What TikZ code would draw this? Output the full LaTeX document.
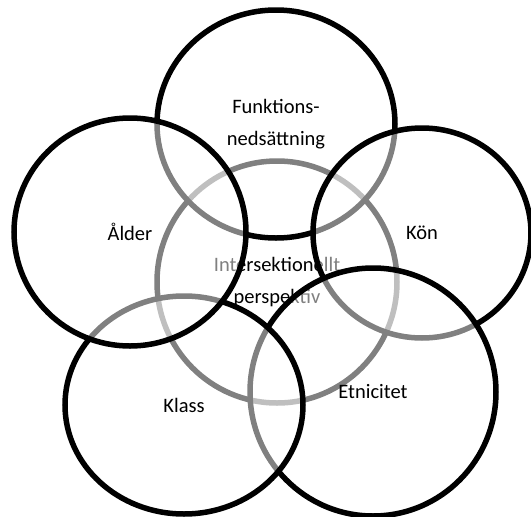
\documentclass[tikz,border=0pt]{standalone}
\usepackage{fontspec}
\setmainfont{Carlito}
\usetikzlibrary{shapes.geometric}

\begin{document}
\begin{tikzpicture}[x=1pt,y=-1pt,
 ring/.style={ellipse, draw=black, line width=5.5pt, fill=white,
    fill opacity=0.5, text opacity=1, inner sep=0pt, align=center,
    font=\fontsize{20.5}{31.5}\selectfont}]

 \clip (0,0) rectangle (531,517);

% middle ring first, the five others lie half-transparent over it
 \node[ring, minimum width=240, minimum height=242] (inter) at (277,282)
    {Intersektionellt\\perspektiv};

 \node[ring, minimum width=238, minimum height=228] (funk) at (276,124)
    {Funktions-\\nedsättning};
 \node[ring, minimum width=218, minimum height=210] (kon) at (422,233) {Kön};
 \node[ring, minimum width=246, minimum height=248] (etni) at (373,392) {Etnicitet};
 \node[ring, minimum width=238, minimum height=218] (klass) at (184,405) {Klass};
 \node[ring, minimum width=232, minimum height=228] (alder) at (130,232) {Ålder};

\end{tikzpicture}
\end{document}
